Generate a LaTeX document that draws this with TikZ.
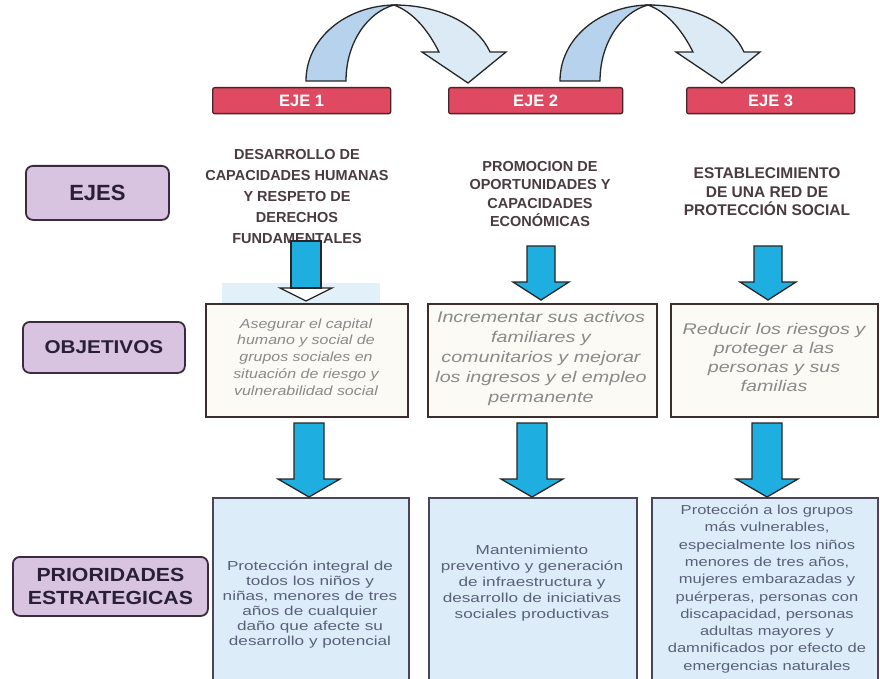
\documentclass[tikz,border=0pt]{standalone}
\usepackage{fontspec}
\setmainfont{Liberation Sans}
\newfontfamily\stretchA[FakeStretch=1.20]{Liberation Sans}
\newfontfamily\stretchB[FakeStretch=1.27]{Liberation Sans}
\newfontfamily\stretchC[FakeStretch=1.32]{Liberation Sans}
\newfontfamily\stretchL[FakeStretch=1.12]{Liberation Sans}
\usetikzlibrary{calc}
\definecolor{lblfill}{HTML}{D8C3E0}
\definecolor{lblborder}{HTML}{3B2B3F}
\definecolor{lbltext}{HTML}{2A2035}
\definecolor{ejefill}{HTML}{DF4A62}
\definecolor{ejeborder}{HTML}{4A2426}
\definecolor{objfill}{HTML}{FCFAF5}
\definecolor{objborder}{HTML}{3C2E2E}
\definecolor{objtext}{HTML}{8A8A8A}
\definecolor{prifill}{HTML}{DCEDF9}
\definecolor{priborder}{HTML}{4C4458}
\definecolor{pritext}{HTML}{5A6078}
\definecolor{cyanarrow}{HTML}{1FAEE0}
\definecolor{titletext}{HTML}{4A3A42}
\definecolor{ribbonA}{HTML}{B6D2EC}
\definecolor{ribbonB}{HTML}{DCEAF6}
\definecolor{haze}{HTML}{E2F0FA}
\newcommand{\blockarrow}[6]{% x, ytop, yhead, ytip, shaftw, headw
  \filldraw[arrowline, fill=cyanarrow] (#1-#5/2,#2) -- (#1+#5/2,#2) -- (#1+#5/2,#3) -- (#1+#6/2,#3) -- (#1,#4) -- (#1-#6/2,#3) -- (#1-#5/2,#3) -- cycle;}
\newcommand{\ribbonarrow}[1]{% base left x
  \filldraw[arrowline, fill=ribbonA] (#1,81) .. controls (#1,38) and (#1+40,6) .. (#1+88,5)
     .. controls (#1+62,12) and (#1+40,42) .. (#1+40,81) -- cycle;
  \filldraw[arrowline, fill=ribbonB] (#1+88,5) .. controls (#1+135,5) and (#1+172,25) .. (#1+184,52)
     -- (#1+200,52) -- (#1+162,83) -- (#1+116,52) -- (#1+133,52)
     .. controls (#1+122,30) and (#1+107,12) .. (#1+88,5) -- cycle;}
\begin{document}
\begin{tikzpicture}[x=1pt,y=-1pt,
  arrowline/.style={draw=black!85, line width=1.3pt, line join=miter},
  lbl/.style={draw=lblborder, line width=1.8pt, rounded corners=7pt, fill=lblfill, text=lbltext, align=center, inner sep=0pt, anchor=north west},
  eje/.style={draw=ejeborder, line width=1.3pt, rounded corners=2pt, fill=ejefill, text=white, font=\bfseries\fontsize{16.5}{18}\selectfont, inner sep=0pt, anchor=north west},
  ttl/.style={text=titletext, align=center, font=\bfseries\fontsize{14.5}{21}\selectfont, inner sep=0pt},
  ttlb/.style={text=titletext, align=center, font=\bfseries\fontsize{14.5}{18.5}\selectfont, inner sep=0pt},
  objbox/.style={draw=objborder, line width=1.8pt, fill=objfill, inner sep=0pt, anchor=north west},
  objtxt/.style={text=objtext, align=center, inner sep=0pt},
  pribox/.style={draw=priborder, line width=1.8pt, fill=prifill, inner sep=0pt, anchor=north west},
  pritxt/.style={text=pritext, align=center, inner sep=0pt}
]
\useasboundingbox (0,0) rectangle (880,679);
\fill[white] (0,0) rectangle (880,679);

% curved arrows
\ribbonarrow{306}
\ribbonarrow{560}

% EJE boxes
\node[eje, minimum width=178pt, minimum height=26pt] (e1) at (212,87) {EJE 1};
\node[eje, minimum width=174pt, minimum height=26pt] (e2) at (448,87) {EJE 2};
\node[eje, minimum width=168pt, minimum height=26pt] (e3) at (686,87) {EJE 3};

% left labels
\node[lbl, minimum width=143pt, minimum height=54pt, font=\bfseries\fontsize{22}{24}\selectfont] (lejes) at (25,165) {EJES};
\node[lbl, minimum width=162pt, minimum height=51pt, font=\stretchL\bfseries\fontsize{18.5}{20}\selectfont] (lobj) at (22,321) {OBJETIVOS};
\node[lbl, minimum width=195pt, minimum height=59pt, font=\stretchL\bfseries\fontsize{19}{23}\selectfont] (lpri) at (12,556) {PRIORIDADES\\ESTRATEGICAS};

% titles
\node[ttl] (t1) at (297,197) {DESARROLLO DE\\CAPACIDADES HUMANAS\\Y RESPETO DE\\DERECHOS\\FUNDAMENTALES};
\node[ttlb] (t2) at (540,194) {PROMOCION DE\\OPORTUNIDADES Y\\CAPACIDADES\\ECONÓMICAS};
\node[ttlb, font=\bfseries\fontsize{15.5}{18.5}\selectfont] (t3) at (767,192) {ESTABLECIMIENTO\\DE UNA RED DE\\PROTECCIÓN SOCIAL};

% haze behind first head
\fill[haze] (222,283) rectangle (380,303);

% objective boxes
\node[objbox, minimum width=202pt, minimum height=113pt] (o1) at (205,303) {};
\node[objbox, minimum width=229pt, minimum height=113pt] (o2) at (427,303) {};
\node[objbox, minimum width=207pt, minimum height=113pt] (o3) at (670,303) {};
\node[objtxt, font=\stretchA\itshape\fontsize{13.3}{16.8}\selectfont] (ot1) at (306,357) {Asegurar el capital\\humano y social de\\grupos sociales en\\situación de riesgo y\\vulnerabilidad social};
\node[objtxt, font=\stretchB\itshape\fontsize{15.5}{20}\selectfont] (ot2) at (541,358) {Incrementar sus activos\\familiares y\\comunitarios y mejorar\\los ingresos y el empleo\\permanente};
\node[objtxt, font=\stretchB\itshape\fontsize{15.5}{19}\selectfont] (ot3) at (774,357) {Reducir los riesgos y\\proteger a las\\personas y sus\\familias};

% priority boxes
\node[pribox, minimum width=196pt, minimum height=186pt] (p1) at (212,497) {};
\node[pribox, minimum width=208pt, minimum height=186pt] (p2) at (428,497) {};
\node[pribox, minimum width=226pt, minimum height=186pt] (p3) at (651,497) {};
\node[pritxt, font=\stretchC\fontsize{13}{15}\selectfont] (pt1) at (310,605) {Protección integral de\\todos los niños y\\niñas, menores de tres\\años de cualquier\\daño que afecte su\\desarrollo y potencial};
\node[pritxt, font=\stretchC\fontsize{13}{16}\selectfont] (pt2) at (532,583) {Mantenimiento\\preventivo y generación\\de infraestructura y\\desarrollo de iniciativas\\sociales productivas};
\node[pritxt, font=\stretchB\fontsize{13}{17.3}\selectfont] (pt3) at (767,589) {Protección a los grupos\\más vulnerables,\\especialmente los niños\\menores de tres años,\\mujeres embarazadas y\\puérperas, personas con\\discapacidad, personas\\adultas mayores y\\damnificados por efecto de\\emergencias naturales};

% block arrows, row 1
\filldraw[arrowline, fill=white] (306-15,241) -- (306+15,241) -- (306+15,288) -- (306+26,288) -- (306,301) -- (306-26,288) -- (306-15,288) -- cycle;
\filldraw[arrowline, fill=cyanarrow] (306-15,241) -- (306+15,241) -- (306+15,288) -- (306-15,288) -- cycle;
\blockarrow{541}{246}{282}{300}{28}{56}
\blockarrow{768}{246}{282}{300}{28}{56}
% block arrows, row 2
\blockarrow{309}{423}{479}{497}{30}{62}
\blockarrow{532}{423}{479}{497}{30}{62}
\blockarrow{767}{423}{479}{497}{30}{62}
\end{tikzpicture}
\end{document}
